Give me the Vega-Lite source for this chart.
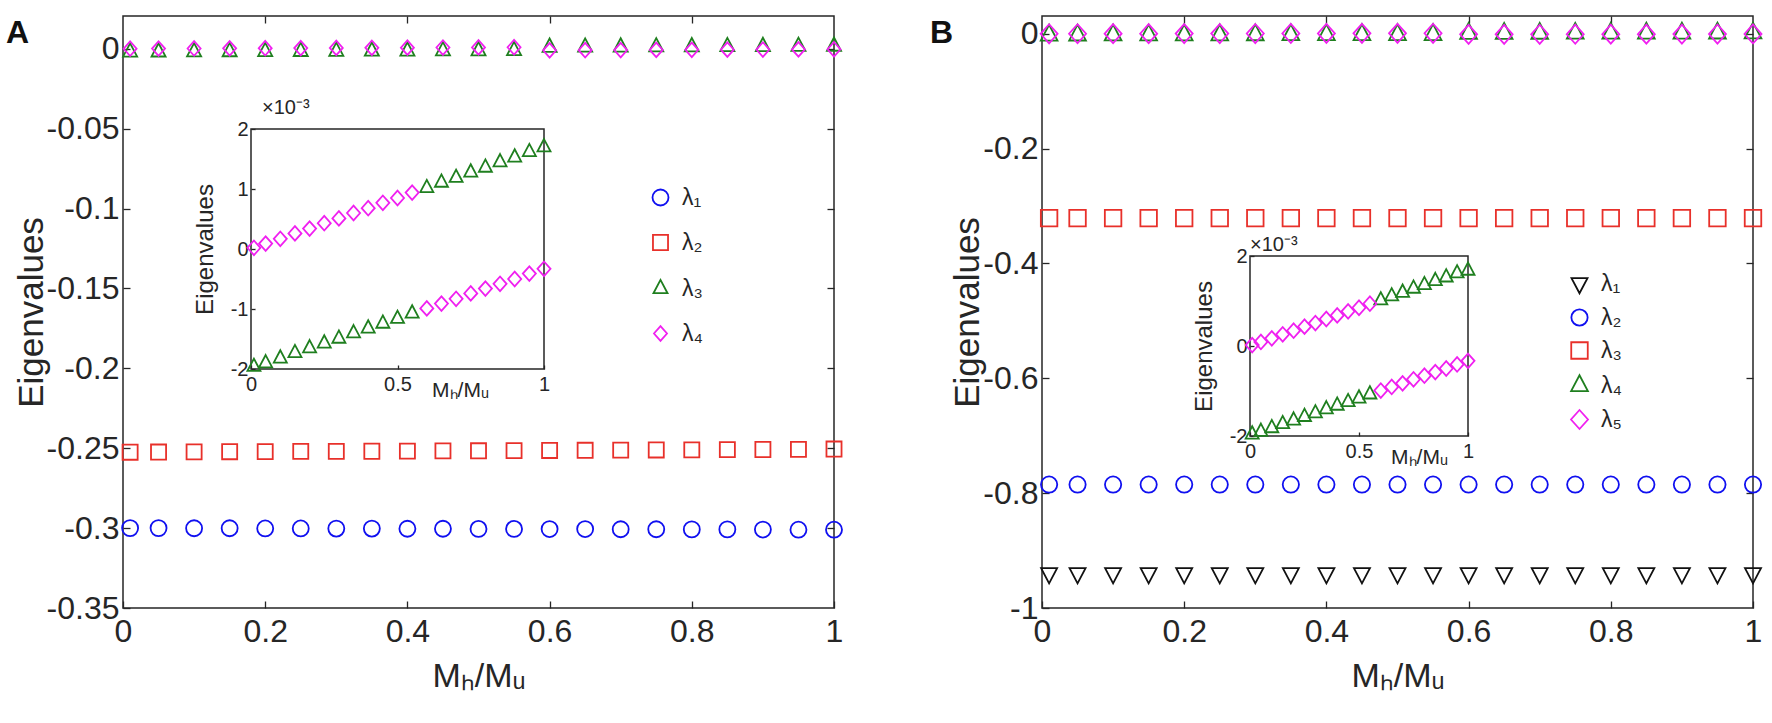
{
"$schema":"https://vega.github.io/schema/vega-lite/v6.json",
"background":"white",
"padding":{"left":5,"top":14,"right":0,"bottom":0},
"config":{
 "font":"Liberation Sans",
 "view":{"stroke":"#262626","strokeWidth":1.5},
 "axis":{"grid":false,"labelFont":"Liberation Sans","titleFont":"Liberation Sans","labelColor":"#262626","titleColor":"#262626","tickColor":"#262626","tickWidth":1.3,"titleFontWeight":"normal","labelFlush":false,"labelOverlap":false},
 "legend":{"labelFont":"Liberation Sans","labelFontSize":23,"labelColor":"#262626","symbolStrokeWidth":1.8,"padding":0,"labelOffset":10},
 "text":{"font":"Liberation Sans"}
},
"datasets":{
 "mainA":[
  {"x":0.01,"s":"λ₁","v":-0.3000},{"x":0.05,"s":"λ₁","v":-0.3000},{"x":0.1,"s":"λ₁","v":-0.3001},{"x":0.15,"s":"λ₁","v":-0.3001},{"x":0.2,"s":"λ₁","v":-0.3002},{"x":0.25,"s":"λ₁","v":-0.3002},{"x":0.3,"s":"λ₁","v":-0.3003},{"x":0.35,"s":"λ₁","v":-0.3003},{"x":0.4,"s":"λ₁","v":-0.3004},{"x":0.45,"s":"λ₁","v":-0.3004},{"x":0.5,"s":"λ₁","v":-0.3005},{"x":0.55,"s":"λ₁","v":-0.3005},{"x":0.6,"s":"λ₁","v":-0.3006},{"x":0.65,"s":"λ₁","v":-0.3006},{"x":0.7,"s":"λ₁","v":-0.3007},{"x":0.75,"s":"λ₁","v":-0.3007},{"x":0.8,"s":"λ₁","v":-0.3008},{"x":0.85,"s":"λ₁","v":-0.3008},{"x":0.9,"s":"λ₁","v":-0.3009},{"x":0.95,"s":"λ₁","v":-0.3010},{"x":1,"s":"λ₁","v":-0.3010},
  {"x":0.01,"s":"λ₂","v":-0.2525},{"x":0.05,"s":"λ₂","v":-0.2524},{"x":0.1,"s":"λ₂","v":-0.2523},{"x":0.15,"s":"λ₂","v":-0.2522},{"x":0.2,"s":"λ₂","v":-0.2521},{"x":0.25,"s":"λ₂","v":-0.2520},{"x":0.3,"s":"λ₂","v":-0.2520},{"x":0.35,"s":"λ₂","v":-0.2519},{"x":0.4,"s":"λ₂","v":-0.2518},{"x":0.45,"s":"λ₂","v":-0.2517},{"x":0.5,"s":"λ₂","v":-0.2516},{"x":0.55,"s":"λ₂","v":-0.2515},{"x":0.6,"s":"λ₂","v":-0.2514},{"x":0.65,"s":"λ₂","v":-0.2513},{"x":0.7,"s":"λ₂","v":-0.2512},{"x":0.75,"s":"λ₂","v":-0.2511},{"x":0.8,"s":"λ₂","v":-0.2510},{"x":0.85,"s":"λ₂","v":-0.2509},{"x":0.9,"s":"λ₂","v":-0.2508},{"x":0.95,"s":"λ₂","v":-0.2507},{"x":1,"s":"λ₂","v":-0.2505},
  {"x":0.01,"s":"λ₃","v":-0.00196},{"x":0.05,"s":"λ₃","v":-0.0019},{"x":0.1,"s":"λ₃","v":-0.00182},{"x":0.15,"s":"λ₃","v":-0.00173},{"x":0.2,"s":"λ₃","v":-0.00165},{"x":0.25,"s":"λ₃","v":-0.00157},{"x":0.3,"s":"λ₃","v":-0.00149},{"x":0.35,"s":"λ₃","v":-0.0014},{"x":0.4,"s":"λ₃","v":-0.00132},{"x":0.45,"s":"λ₃","v":-0.00124},{"x":0.5,"s":"λ₃","v":-0.00116},{"x":0.55,"s":"λ₃","v":-0.00107},{"x":0.6,"s":"λ₃","v":0.00102},{"x":0.65,"s":"λ₃","v":0.00111},{"x":0.7,"s":"λ₃","v":0.00119},{"x":0.75,"s":"λ₃","v":0.00128},{"x":0.8,"s":"λ₃","v":0.00136},{"x":0.85,"s":"λ₃","v":0.00145},{"x":0.9,"s":"λ₃","v":0.00153},{"x":0.95,"s":"λ₃","v":0.00162},{"x":1,"s":"λ₃","v":0.0017},
  {"x":0.01,"s":"λ₄","v":0.00002},{"x":0.05,"s":"λ₄","v":0.00009},{"x":0.1,"s":"λ₄","v":0.00017},{"x":0.15,"s":"λ₄","v":0.00026},{"x":0.2,"s":"λ₄","v":0.00034},{"x":0.25,"s":"λ₄","v":0.00043},{"x":0.3,"s":"λ₄","v":0.00051},{"x":0.35,"s":"λ₄","v":0.0006},{"x":0.4,"s":"λ₄","v":0.00068},{"x":0.45,"s":"λ₄","v":0.00077},{"x":0.5,"s":"λ₄","v":0.00085},{"x":0.55,"s":"λ₄","v":0.00094},{"x":0.6,"s":"λ₄","v":-0.00099},{"x":0.65,"s":"λ₄","v":-0.00091},{"x":0.7,"s":"λ₄","v":-0.00083},{"x":0.75,"s":"λ₄","v":-0.00074},{"x":0.8,"s":"λ₄","v":-0.00066},{"x":0.85,"s":"λ₄","v":-0.00058},{"x":0.9,"s":"λ₄","v":-0.0005},{"x":0.95,"s":"λ₄","v":-0.00041},{"x":1,"s":"λ₄","v":-0.00033}
 ],
 "insetA":[
  {"x":0.01,"s":"λ₃","v":-1.96},{"x":0.05,"s":"λ₃","v":-1.9},{"x":0.1,"s":"λ₃","v":-1.82},{"x":0.15,"s":"λ₃","v":-1.73},{"x":0.2,"s":"λ₃","v":-1.65},{"x":0.25,"s":"λ₃","v":-1.57},{"x":0.3,"s":"λ₃","v":-1.49},{"x":0.35,"s":"λ₃","v":-1.4},{"x":0.4,"s":"λ₃","v":-1.32},{"x":0.45,"s":"λ₃","v":-1.24},{"x":0.5,"s":"λ₃","v":-1.16},{"x":0.55,"s":"λ₃","v":-1.07},{"x":0.6,"s":"λ₃","v":1.02},{"x":0.65,"s":"λ₃","v":1.11},{"x":0.7,"s":"λ₃","v":1.19},{"x":0.75,"s":"λ₃","v":1.28},{"x":0.8,"s":"λ₃","v":1.36},{"x":0.85,"s":"λ₃","v":1.45},{"x":0.9,"s":"λ₃","v":1.53},{"x":0.95,"s":"λ₃","v":1.62},{"x":1,"s":"λ₃","v":1.7},
  {"x":0.01,"s":"λ₄","v":0.02},{"x":0.05,"s":"λ₄","v":0.09},{"x":0.1,"s":"λ₄","v":0.17},{"x":0.15,"s":"λ₄","v":0.26},{"x":0.2,"s":"λ₄","v":0.34},{"x":0.25,"s":"λ₄","v":0.43},{"x":0.3,"s":"λ₄","v":0.51},{"x":0.35,"s":"λ₄","v":0.6},{"x":0.4,"s":"λ₄","v":0.68},{"x":0.45,"s":"λ₄","v":0.77},{"x":0.5,"s":"λ₄","v":0.85},{"x":0.55,"s":"λ₄","v":0.94},{"x":0.6,"s":"λ₄","v":-0.99},{"x":0.65,"s":"λ₄","v":-0.91},{"x":0.7,"s":"λ₄","v":-0.83},{"x":0.75,"s":"λ₄","v":-0.74},{"x":0.8,"s":"λ₄","v":-0.66},{"x":0.85,"s":"λ₄","v":-0.58},{"x":0.9,"s":"λ₄","v":-0.5},{"x":0.95,"s":"λ₄","v":-0.41},{"x":1,"s":"λ₄","v":-0.33}
 ],
 "mainB":[
  {"x":0.01,"s":"λ₁","v":-0.94},{"x":0.05,"s":"λ₁","v":-0.94},{"x":0.1,"s":"λ₁","v":-0.94},{"x":0.15,"s":"λ₁","v":-0.94},{"x":0.2,"s":"λ₁","v":-0.94},{"x":0.25,"s":"λ₁","v":-0.94},{"x":0.3,"s":"λ₁","v":-0.94},{"x":0.35,"s":"λ₁","v":-0.94},{"x":0.4,"s":"λ₁","v":-0.94},{"x":0.45,"s":"λ₁","v":-0.94},{"x":0.5,"s":"λ₁","v":-0.94},{"x":0.55,"s":"λ₁","v":-0.94},{"x":0.6,"s":"λ₁","v":-0.94},{"x":0.65,"s":"λ₁","v":-0.94},{"x":0.7,"s":"λ₁","v":-0.94},{"x":0.75,"s":"λ₁","v":-0.94},{"x":0.8,"s":"λ₁","v":-0.94},{"x":0.85,"s":"λ₁","v":-0.94},{"x":0.9,"s":"λ₁","v":-0.94},{"x":0.95,"s":"λ₁","v":-0.94},{"x":1,"s":"λ₁","v":-0.94},
  {"x":0.01,"s":"λ₂","v":-0.785},{"x":0.05,"s":"λ₂","v":-0.785},{"x":0.1,"s":"λ₂","v":-0.785},{"x":0.15,"s":"λ₂","v":-0.785},{"x":0.2,"s":"λ₂","v":-0.785},{"x":0.25,"s":"λ₂","v":-0.785},{"x":0.3,"s":"λ₂","v":-0.785},{"x":0.35,"s":"λ₂","v":-0.785},{"x":0.4,"s":"λ₂","v":-0.785},{"x":0.45,"s":"λ₂","v":-0.785},{"x":0.5,"s":"λ₂","v":-0.785},{"x":0.55,"s":"λ₂","v":-0.785},{"x":0.6,"s":"λ₂","v":-0.785},{"x":0.65,"s":"λ₂","v":-0.785},{"x":0.7,"s":"λ₂","v":-0.785},{"x":0.75,"s":"λ₂","v":-0.785},{"x":0.8,"s":"λ₂","v":-0.785},{"x":0.85,"s":"λ₂","v":-0.785},{"x":0.9,"s":"λ₂","v":-0.785},{"x":0.95,"s":"λ₂","v":-0.785},{"x":1,"s":"λ₂","v":-0.785},
  {"x":0.01,"s":"λ₃","v":-0.321},{"x":0.05,"s":"λ₃","v":-0.321},{"x":0.1,"s":"λ₃","v":-0.321},{"x":0.15,"s":"λ₃","v":-0.321},{"x":0.2,"s":"λ₃","v":-0.321},{"x":0.25,"s":"λ₃","v":-0.321},{"x":0.3,"s":"λ₃","v":-0.321},{"x":0.35,"s":"λ₃","v":-0.321},{"x":0.4,"s":"λ₃","v":-0.321},{"x":0.45,"s":"λ₃","v":-0.321},{"x":0.5,"s":"λ₃","v":-0.321},{"x":0.55,"s":"λ₃","v":-0.321},{"x":0.6,"s":"λ₃","v":-0.321},{"x":0.65,"s":"λ₃","v":-0.321},{"x":0.7,"s":"λ₃","v":-0.321},{"x":0.75,"s":"λ₃","v":-0.321},{"x":0.8,"s":"λ₃","v":-0.321},{"x":0.85,"s":"λ₃","v":-0.321},{"x":0.9,"s":"λ₃","v":-0.321},{"x":0.95,"s":"λ₃","v":-0.321},{"x":1,"s":"λ₃","v":-0.321},
  {"x":0.01,"s":"λ₄","v":-0.00196},{"x":0.05,"s":"λ₄","v":-0.0019},{"x":0.1,"s":"λ₄","v":-0.00182},{"x":0.15,"s":"λ₄","v":-0.00173},{"x":0.2,"s":"λ₄","v":-0.00165},{"x":0.25,"s":"λ₄","v":-0.00157},{"x":0.3,"s":"λ₄","v":-0.00149},{"x":0.35,"s":"λ₄","v":-0.0014},{"x":0.4,"s":"λ₄","v":-0.00132},{"x":0.45,"s":"λ₄","v":-0.00124},{"x":0.5,"s":"λ₄","v":-0.00116},{"x":0.55,"s":"λ₄","v":-0.00107},{"x":0.6,"s":"λ₄","v":0.00102},{"x":0.65,"s":"λ₄","v":0.00111},{"x":0.7,"s":"λ₄","v":0.00119},{"x":0.75,"s":"λ₄","v":0.00128},{"x":0.8,"s":"λ₄","v":0.00136},{"x":0.85,"s":"λ₄","v":0.00145},{"x":0.9,"s":"λ₄","v":0.00153},{"x":0.95,"s":"λ₄","v":0.00162},{"x":1,"s":"λ₄","v":0.0017},
  {"x":0.01,"s":"λ₅","v":0.00002},{"x":0.05,"s":"λ₅","v":0.00009},{"x":0.1,"s":"λ₅","v":0.00017},{"x":0.15,"s":"λ₅","v":0.00026},{"x":0.2,"s":"λ₅","v":0.00034},{"x":0.25,"s":"λ₅","v":0.00043},{"x":0.3,"s":"λ₅","v":0.00051},{"x":0.35,"s":"λ₅","v":0.0006},{"x":0.4,"s":"λ₅","v":0.00068},{"x":0.45,"s":"λ₅","v":0.00077},{"x":0.5,"s":"λ₅","v":0.00085},{"x":0.55,"s":"λ₅","v":0.00094},{"x":0.6,"s":"λ₅","v":-0.00099},{"x":0.65,"s":"λ₅","v":-0.00091},{"x":0.7,"s":"λ₅","v":-0.00083},{"x":0.75,"s":"λ₅","v":-0.00074},{"x":0.8,"s":"λ₅","v":-0.00066},{"x":0.85,"s":"λ₅","v":-0.00058},{"x":0.9,"s":"λ₅","v":-0.0005},{"x":0.95,"s":"λ₅","v":-0.00041},{"x":1,"s":"λ₅","v":-0.00033}
 ],
 "insetB":[
  {"x":0.01,"s":"λ₄","v":-1.96},{"x":0.05,"s":"λ₄","v":-1.9},{"x":0.1,"s":"λ₄","v":-1.82},{"x":0.15,"s":"λ₄","v":-1.73},{"x":0.2,"s":"λ₄","v":-1.65},{"x":0.25,"s":"λ₄","v":-1.57},{"x":0.3,"s":"λ₄","v":-1.49},{"x":0.35,"s":"λ₄","v":-1.4},{"x":0.4,"s":"λ₄","v":-1.32},{"x":0.45,"s":"λ₄","v":-1.24},{"x":0.5,"s":"λ₄","v":-1.16},{"x":0.55,"s":"λ₄","v":-1.07},{"x":0.6,"s":"λ₄","v":1.02},{"x":0.65,"s":"λ₄","v":1.11},{"x":0.7,"s":"λ₄","v":1.19},{"x":0.75,"s":"λ₄","v":1.28},{"x":0.8,"s":"λ₄","v":1.36},{"x":0.85,"s":"λ₄","v":1.45},{"x":0.9,"s":"λ₄","v":1.53},{"x":0.95,"s":"λ₄","v":1.62},{"x":1,"s":"λ₄","v":1.68},
  {"x":0.01,"s":"λ₅","v":0.02},{"x":0.05,"s":"λ₅","v":0.09},{"x":0.1,"s":"λ₅","v":0.17},{"x":0.15,"s":"λ₅","v":0.26},{"x":0.2,"s":"λ₅","v":0.34},{"x":0.25,"s":"λ₅","v":0.43},{"x":0.3,"s":"λ₅","v":0.51},{"x":0.35,"s":"λ₅","v":0.6},{"x":0.4,"s":"λ₅","v":0.68},{"x":0.45,"s":"λ₅","v":0.77},{"x":0.5,"s":"λ₅","v":0.85},{"x":0.55,"s":"λ₅","v":0.94},{"x":0.6,"s":"λ₅","v":-0.99},{"x":0.65,"s":"λ₅","v":-0.91},{"x":0.7,"s":"λ₅","v":-0.83},{"x":0.75,"s":"λ₅","v":-0.74},{"x":0.8,"s":"λ₅","v":-0.66},{"x":0.85,"s":"λ₅","v":-0.58},{"x":0.9,"s":"λ₅","v":-0.5},{"x":0.95,"s":"λ₅","v":-0.41},{"x":1,"s":"λ₅","v":-0.33}
 ]
},
"spacing":208,
"bounds":"flush",
"resolve":{"scale":{"color":"independent","shape":"independent","size":"independent"},"legend":{"color":"independent","shape":"independent","size":"independent"}},
"hconcat":[
 {
  "width":711,"height":592,
  "resolve":{"scale":{"x":"independent","y":"independent"},"axis":{"x":"independent","y":"independent"}},
  "layer":[
   {"data":{"name":"mainA"},
    "mark":{"type":"point","filled":false,"strokeWidth":1.8,"opacity":1},
    "encoding":{
     "x":{"field":"x","type":"quantitative","title":"Mₕ/Mᵤ","scale":{"domain":[0,1],"nice":false,"zero":false},"axis":{"orient":"bottom","values":[0,0.2,0.4,0.6,0.8,1],"format":"~g","labelFontSize":32,"titleFontSize":34,"tickSize":-7,"labelPadding":15,"titlePadding":12,"domain":false}},
     "y":{"field":"v","type":"quantitative","title":"Eigenvalues","scale":{"domain":[-0.35,0.0205],"nice":false,"zero":false},"axis":{"orient":"left","values":[-0.35,-0.3,-0.25,-0.2,-0.15,-0.1,-0.05,0],"format":"~g","labelExpr":"replace(datum.label,'−','-')","labelFontSize":32,"titleFontSize":35,"tickSize":-7,"labelPadding":11,"titlePadding":-3,"domain":false}},
     "color":{"field":"s","type":"nominal","scale":{"domain":["λ₁","λ₂","λ₃","λ₄"],"range":["#1010F0","#E8302A","#1F7F1F","#F020F0"]},"legend":{"orient":"none","legendX":526,"legendY":170,"title":null,"rowPadding":21}},
     "shape":{"field":"s","type":"nominal","scale":{"domain":["λ₁","λ₂","λ₃","λ₄"],"range":["circle","square","M0,-1.22L1,0.67L-1,0.67Z","M0,-1.12L1,0L0,1.12L-1,0Z"]},"legend":{"orient":"none","legendX":526,"legendY":170,"title":null,"rowPadding":21}},
     "size":{"field":"s","type":"nominal","scale":{"domain":["λ₁","λ₂","λ₃","λ₄"],"range":[256,169,256,256]},"legend":{"orient":"none","legendX":526,"legendY":170,"title":null,"rowPadding":21}}
    }},
   {"layer":[
     {"data":{"values":[{}]},"mark":{"type":"rect","filled":false,"stroke":"#262626","strokeWidth":1.5},
      "encoding":{
       "x":{"datum":0,"type":"quantitative","title":"Mₕ/Mᵤ","scale":{"domain":[0,1],"range":[128,421],"nice":false,"zero":false},"axis":{"orient":"bottom","offset":-239,"values":[0,0.5,1],"format":"~g","labelFontSize":20,"tickSize":-4,"labelPadding":9,"domain":false,"titleFontSize":21,"titleX":337,"titleY":27,"titleBaseline":"alphabetic","titleAlign":"center"}},
       "x2":{"datum":1},
       "y":{"datum":-2,"type":"quantitative","title":"Eigenvalues","scale":{"domain":[-2,2],"range":[353,113],"nice":false,"zero":false},"axis":{"orient":"left","offset":-128,"values":[-2,-1,0,1,2],"format":"~g","labelExpr":"replace(datum.label,'−','-')","labelFontSize":20,"tickSize":-4,"labelPadding":7,"domain":false,"titleFontSize":24,"titlePadding":13}},
       "y2":{"datum":2}}},
     {"data":{"name":"insetA"},"mark":{"type":"point","filled":false,"strokeWidth":1.8,"opacity":1,"size":170},
      "encoding":{
       "x":{"field":"x","type":"quantitative","title":"Mₕ/Mᵤ","scale":{"domain":[0,1],"range":[128,421],"nice":false,"zero":false},"axis":{"orient":"bottom","offset":-239,"values":[0,0.5,1],"format":"~g","labelFontSize":20,"tickSize":-4,"labelPadding":9,"domain":false,"titleFontSize":21,"titleX":337,"titleY":27,"titleBaseline":"alphabetic","titleAlign":"center"}},
       "y":{"field":"v","type":"quantitative","title":"Eigenvalues","scale":{"domain":[-2,2],"range":[353,113],"nice":false,"zero":false},"axis":{"orient":"left","offset":-128,"values":[-2,-1,0,1,2],"format":"~g","labelExpr":"replace(datum.label,'−','-')","labelFontSize":20,"tickSize":-4,"labelPadding":7,"domain":false,"titleFontSize":24,"titlePadding":13}},
       "color":{"field":"s","type":"nominal"},
       "shape":{"field":"s","type":"nominal"}}},
     {"data":{"values":[{}]},"mark":{"type":"text","text":"×10⁻³","align":"left","baseline":"alphabetic","dx":11,"dy":-15,"fontSize":20,"color":"#262626"},
      "encoding":{
       "x":{"datum":0,"type":"quantitative","title":"Mₕ/Mᵤ","scale":{"domain":[0,1],"range":[128,421],"nice":false,"zero":false},"axis":{"orient":"bottom","offset":-239,"values":[0,0.5,1],"format":"~g","labelFontSize":20,"tickSize":-4,"labelPadding":9,"domain":false,"titleFontSize":21,"titleX":337,"titleY":27,"titleBaseline":"alphabetic","titleAlign":"center"}},
       "y":{"datum":2,"type":"quantitative","title":"Eigenvalues","scale":{"domain":[-2,2],"range":[353,113],"nice":false,"zero":false},"axis":{"orient":"left","offset":-128,"values":[-2,-1,0,1,2],"format":"~g","labelExpr":"replace(datum.label,'−','-')","labelFontSize":20,"tickSize":-4,"labelPadding":7,"domain":false,"titleFontSize":24,"titlePadding":13}}}}
   ]},
   {"data":{"values":[{}]},"mark":{"type":"text","text":"A","align":"left","baseline":"alphabetic","dx":-117,"dy":27,"fontSize":32,"fontWeight":"bold","color":"#111111"},
    "encoding":{
     "x":{"datum":0,"type":"quantitative","title":null,"scale":{"domain":[0,1],"nice":false,"zero":false},"axis":{"orient":"top","values":[0.2,0.4,0.6,0.8],"labels":false,"tickSize":-7,"domain":false}},
     "y":{"datum":0.0205,"type":"quantitative","title":null,"scale":{"domain":[-0.35,0.0205],"nice":false,"zero":false},"axis":{"orient":"right","values":[-0.3,-0.25,-0.2,-0.15,-0.1,-0.05,0],"labels":false,"tickSize":-7,"domain":false}}}}
  ]
 },
 {
  "width":711,"height":592,
  "resolve":{"scale":{"x":"independent","y":"independent"},"axis":{"x":"independent","y":"independent"}},
  "layer":[
   {"data":{"name":"mainB"},
    "mark":{"type":"point","filled":false,"strokeWidth":1.8,"opacity":1},
    "encoding":{
     "x":{"field":"x","type":"quantitative","title":"Mₕ/Mᵤ","scale":{"domain":[0,1],"nice":false,"zero":false},"axis":{"orient":"bottom","values":[0,0.2,0.4,0.6,0.8,1],"format":"~g","labelFontSize":32,"titleFontSize":34,"tickSize":-7,"labelPadding":15,"titlePadding":12,"domain":false}},
     "y":{"field":"v","type":"quantitative","title":"Eigenvalues","scale":{"domain":[-1,0.031],"nice":false,"zero":false},"axis":{"orient":"left","values":[-1,-0.8,-0.6,-0.4,-0.2,0],"format":"~g","labelExpr":"replace(datum.label,'−','-')","labelFontSize":32,"titleFontSize":35,"tickSize":-7,"labelPadding":11,"titlePadding":-3,"domain":false}},
     "color":{"field":"s","type":"nominal","scale":{"domain":["λ₁","λ₂","λ₃","λ₄","λ₅"],"range":["#111111","#1010F0","#E8302A","#1F7F1F","#F020F0"]},"legend":{"orient":"none","legendX":526,"legendY":256,"title":null,"rowPadding":8}},
     "shape":{"field":"s","type":"nominal","scale":{"domain":["λ₁","λ₂","λ₃","λ₄","λ₅"],"range":["M0,1.22L1,-0.67L-1,-0.67Z","circle","square","M0,-1.22L1,0.67L-1,0.67Z","M0,-1.12L1,0L0,1.12L-1,0Z"]},"legend":{"orient":"none","legendX":526,"legendY":256,"title":null,"rowPadding":8}},
     "size":{"field":"s","type":"nominal","scale":{"domain":["λ₁","λ₂","λ₃","λ₄","λ₅"],"range":[256,289,169,256,256]},"legend":{"orient":"none","legendX":526,"legendY":256,"title":null,"rowPadding":8}}
    }},
   {"layer":[
     {"data":{"values":[{}]},"mark":{"type":"rect","filled":false,"stroke":"#262626","strokeWidth":1.5},
      "encoding":{
       "x":{"datum":0,"type":"quantitative","title":"Mₕ/Mᵤ","scale":{"domain":[0,1],"range":[208,426],"nice":false,"zero":false},"axis":{"orient":"bottom","offset":-172,"values":[0,0.5,1],"format":"~g","labelFontSize":20,"tickSize":-4,"labelPadding":9,"domain":false,"titleFontSize":21,"titleX":377,"titleY":27,"titleBaseline":"alphabetic","titleAlign":"center"}},
       "x2":{"datum":1},
       "y":{"datum":-2,"type":"quantitative","title":"Eigenvalues","scale":{"domain":[-2,2],"range":[420,240],"nice":false,"zero":false},"axis":{"orient":"left","offset":-208,"values":[-2,0,2],"format":"~g","labelExpr":"replace(datum.label,'−','-')","labelFontSize":20,"tickSize":-4,"labelPadding":7,"domain":false,"titleFontSize":24,"titlePadding":13}},
       "y2":{"datum":2}}},
     {"data":{"name":"insetB"},"mark":{"type":"point","filled":false,"strokeWidth":1.8,"opacity":1,"size":170},
      "encoding":{
       "x":{"field":"x","type":"quantitative","title":"Mₕ/Mᵤ","scale":{"domain":[0,1],"range":[208,426],"nice":false,"zero":false},"axis":{"orient":"bottom","offset":-172,"values":[0,0.5,1],"format":"~g","labelFontSize":20,"tickSize":-4,"labelPadding":9,"domain":false,"titleFontSize":21,"titleX":377,"titleY":27,"titleBaseline":"alphabetic","titleAlign":"center"}},
       "y":{"field":"v","type":"quantitative","title":"Eigenvalues","scale":{"domain":[-2,2],"range":[420,240],"nice":false,"zero":false},"axis":{"orient":"left","offset":-208,"values":[-2,0,2],"format":"~g","labelExpr":"replace(datum.label,'−','-')","labelFontSize":20,"tickSize":-4,"labelPadding":7,"domain":false,"titleFontSize":24,"titlePadding":13}},
       "color":{"field":"s","type":"nominal"},
       "shape":{"field":"s","type":"nominal"}}},
     {"data":{"values":[{}]},"mark":{"type":"text","text":"×10⁻³","align":"left","baseline":"alphabetic","dx":0,"dy":-5,"fontSize":20,"color":"#262626"},
      "encoding":{
       "x":{"datum":0,"type":"quantitative","title":"Mₕ/Mᵤ","scale":{"domain":[0,1],"range":[208,426],"nice":false,"zero":false},"axis":{"orient":"bottom","offset":-172,"values":[0,0.5,1],"format":"~g","labelFontSize":20,"tickSize":-4,"labelPadding":9,"domain":false,"titleFontSize":21,"titleX":377,"titleY":27,"titleBaseline":"alphabetic","titleAlign":"center"}},
       "y":{"datum":2,"type":"quantitative","title":"Eigenvalues","scale":{"domain":[-2,2],"range":[420,240],"nice":false,"zero":false},"axis":{"orient":"left","offset":-208,"values":[-2,0,2],"format":"~g","labelExpr":"replace(datum.label,'−','-')","labelFontSize":20,"tickSize":-4,"labelPadding":7,"domain":false,"titleFontSize":24,"titlePadding":13}}}}
   ]},
   {"data":{"values":[{}]},"mark":{"type":"text","text":"B","align":"left","baseline":"alphabetic","dx":-112,"dy":27,"fontSize":32,"fontWeight":"bold","color":"#111111"},
    "encoding":{
     "x":{"datum":0,"type":"quantitative","title":null,"scale":{"domain":[0,1],"nice":false,"zero":false},"axis":{"orient":"top","values":[0.2,0.4,0.6,0.8],"labels":false,"tickSize":-7,"domain":false}},
     "y":{"datum":0.031,"type":"quantitative","title":null,"scale":{"domain":[-1,0.031],"nice":false,"zero":false},"axis":{"orient":"right","values":[-0.8,-0.6,-0.4,-0.2,0],"labels":false,"tickSize":-7,"domain":false}}}}
  ]
 }
]
}
